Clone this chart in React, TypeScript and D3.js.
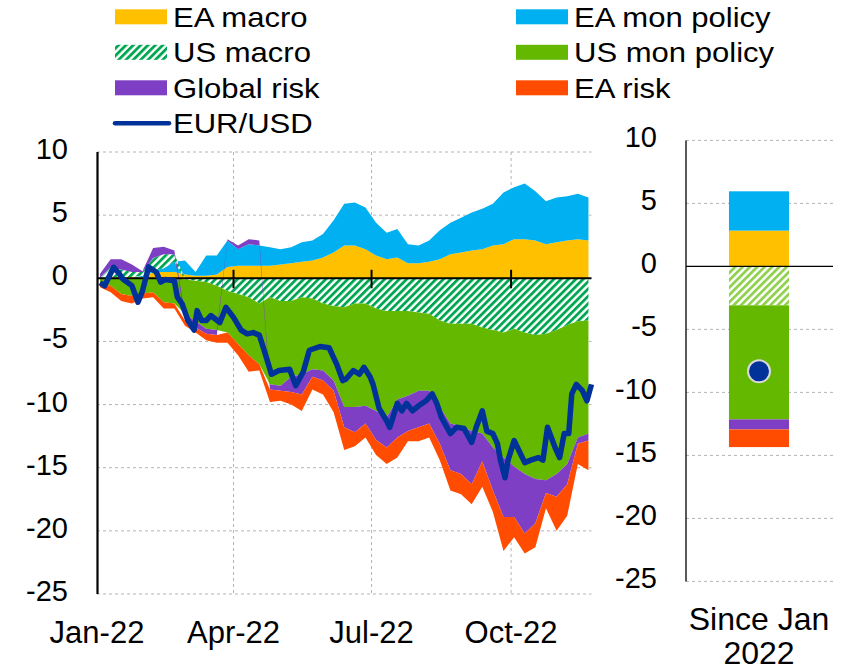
import React from 'react';
import * as d3 from 'd3';

const W = 847;
const H = 670;
const FONT = '"Liberation Sans", Arial, Helvetica, sans-serif';

// weekly observations (Mondays)
const weeks = [
  '2022-01-03', '2022-01-10', '2022-01-17', '2022-01-24', '2022-01-31',
  '2022-02-07', '2022-02-14', '2022-02-21', '2022-02-28',
  '2022-03-07', '2022-03-14', '2022-03-21', '2022-03-28',
  '2022-04-04', '2022-04-11', '2022-04-18', '2022-04-25',
  '2022-05-02', '2022-05-09', '2022-05-16', '2022-05-23', '2022-05-30',
  '2022-06-06', '2022-06-13', '2022-06-20', '2022-06-27',
  '2022-07-04', '2022-07-11', '2022-07-18', '2022-07-25',
  '2022-08-01', '2022-08-08', '2022-08-15', '2022-08-22', '2022-08-29',
  '2022-09-05', '2022-09-12', '2022-09-19', '2022-09-26',
  '2022-10-03', '2022-10-10', '2022-10-17', '2022-10-24', '2022-10-31',
  '2022-11-07', '2022-11-14', '2022-11-21',
];

const eaMacro = [0.05, 0.1, 0.1, 0.1, 0.1, 0.5, 0.5, 0.5, 0.3, 0.2, 0.2, 0.3, 0.9, 1.0, 1.0, 1.0, 1.0, 1.1, 1.2, 1.3, 1.4, 1.65, 2.05, 2.6, 2.6, 2.3, 1.8, 1.5, 1.65, 1.2, 1.2, 1.3, 1.5, 1.9, 2.05, 2.2, 2.3, 2.6, 2.7, 3.1, 3.1, 3.0, 2.7, 2.85, 3.0, 3.1, 3.0];
const eaMonPol = [0, 0, 0, 0, 0.1, 0.1, 0.3, 0.8, 1.1, 0.3, 1.6, 1.5, 2.1, 1.3, 1.7, 1.6, 1.45, 1.2, 1.25, 1.55, 1.6, 1.85, 2.55, 3.3, 3.4, 3.3, 2.6, 2.1, 2.25, 1.5, 1.4, 1.7, 2.3, 2.5, 2.75, 3.0, 3.2, 3.3, 4.1, 4.1, 4.4, 3.9, 3.4, 3.55, 3.5, 3.6, 3.4];
const usMacro = [-0.05, 0.8, 0.6, 0.4, 0.3, 1.0, 1.1, 0.6, -0.1, -0.2, -0.3, -0.6, -1.0, -1.25, -1.5, -2.0, -1.5, -1.8, -1.8, -1.5, -1.6, -2.0, -2.2, -2.3, -2.0, -2.0, -2.4, -2.6, -2.6, -2.6, -2.7, -2.8, -3.35, -3.6, -3.6, -3.6, -3.9, -4.1, -4.3, -4.0, -4.3, -4.5, -4.4, -4.1, -3.7, -3.4, -3.35];
const usMonPol = [-0.35, -0.6, -1.25, -1.4, -1.2, -1.1, -1.9, -2.0, -2.7, -3.2, -3.7, -3.5, -3.3, -3.95, -4.6, -4.8, -6.9, -6.7, -6.0, -6.1, -5.6, -5.3, -5.9, -7.9, -8.2, -8.1, -8.1, -8.4, -7.0, -6.7, -6.2, -6.1, -6.85, -7.9, -8.1, -8.5, -8.4, -9.3, -9.9, -10.9, -11.2, -11.4, -11.6, -11.4, -11.0, -9.2, -8.95];
const globalRisk = [0.3, 0.6, 0.8, 0.6, 0.05, 0.8, 0.6, 0.3, -0.55, -0.5, -0.4, -0.4, 0.1, 0.3, 0.4, 0.4, -0.4, -0.4, -1.2, -1.6, -0.6, -0.8, -0.8, -1.6, -2.0, -1.4, -2.3, -2.4, -3.0, -2.8, -2.9, -2.6, -2.9, -3.7, -3.8, -4.2, -2.2, -3.4, -4.7, -4.0, -4.7, -3.5, -1.0, -1.8, -1.6, -0.5, -0.55];
const eaRisk = [-0.3, -0.5, -0.55, -0.6, -0.4, -0.4, -0.5, -0.4, -0.4, -0.4, -0.5, -0.6, -0.8, -0.9, -1.3, -0.5, -1.0, -0.8, -1.0, -1.3, -1.0, -1.1, -1.7, -1.8, -1.1, -1.1, -1.2, -1.3, -1.6, -0.8, -1.1, -1.1, -1.3, -1.6, -1.6, -1.6, -2.0, -1.7, -2.7, -1.6, -1.6, -1.9, -1.2, -2.7, -2.5, -1.6, -2.35];

// EUR/USD, read at its turning points
const eurDates = [
  '2022-01-03', '2022-01-06', '2022-01-12', '2022-01-15', '2022-01-18', '2022-01-24', '2022-01-28', '2022-01-31',
  '2022-02-04', '2022-02-09', '2022-02-12', '2022-02-15', '2022-02-21', '2022-02-23', '2022-02-26',
  '2022-03-02', '2022-03-06', '2022-03-08', '2022-03-11', '2022-03-14', '2022-03-17', '2022-03-23', '2022-03-27',
  '2022-04-01', '2022-04-06', '2022-04-10', '2022-04-14', '2022-04-18', '2022-04-22', '2022-04-26',
  '2022-05-01', '2022-05-08', '2022-05-12', '2022-05-17', '2022-05-21', '2022-05-28',
  '2022-06-03', '2022-06-08', '2022-06-12', '2022-06-14', '2022-06-19', '2022-06-23', '2022-06-26', '2022-06-30',
  '2022-07-02', '2022-07-06', '2022-07-11', '2022-07-13', '2022-07-18', '2022-07-21', '2022-07-24', '2022-07-28',
  '2022-08-01', '2022-08-06', '2022-08-10', '2022-08-13', '2022-08-16', '2022-08-22', '2022-08-26', '2022-08-31',
  '2022-09-05', '2022-09-08', '2022-09-12', '2022-09-15', '2022-09-19', '2022-09-22', '2022-09-24', '2022-09-27', '2022-09-29',
  '2022-10-03', '2022-10-06', '2022-10-10', '2022-10-14', '2022-10-19', '2022-10-22', '2022-10-25', '2022-10-30',
  '2022-11-02', '2022-11-05', '2022-11-08', '2022-11-10', '2022-11-13', '2022-11-17', '2022-11-20', '2022-11-23',
];
const eurValues = [
  -0.35, -0.6, 0.87, 0.47, -0.05, -0.58, -1.9, -1.0,
  0.9, 0.5, -0.3, -0.1, -0.2, -1.5, -2.0,
  -3.35, -4.1, -2.56, -3.35, -3.35, -2.95, -3.5, -2.3,
  -3.1, -4.1, -4.4, -4.3, -4.5, -6.0, -7.6,
  -7.3, -7.2, -8.5, -7.4, -5.7, -5.4,
  -5.5, -6.8, -8.1, -8.0, -7.3, -7.6, -7.05, -7.8,
  -8.4, -10.3, -11.3, -11.8, -9.9, -10.5, -9.9, -10.5,
  -10.1, -9.7, -9.15, -9.9, -11.0, -12.3, -11.8, -11.9,
  -13.0, -11.8, -10.5, -12.1, -12.3, -13.1, -14.4, -15.8, -14.4,
  -12.85, -13.6, -14.6, -14.4, -14.2, -14.4, -11.8, -13.4,
  -14.2, -12.3, -12.3, -9.15, -8.4, -8.9, -9.7, -8.4,
];

// cumulative change since January 2022 (right panel)
const sinceLabel = ['Since Jan', '2022'];
const sinceValues = [2.84, 3.12, -3.09, -9.05, -0.8, -1.4];
const sinceEur = -8.33;

const seriesKeys = ['eaMacro', 'eaMonPol', 'usMacro', 'usMonPol', 'globalRisk', 'eaRisk'];
const seriesColors = ['#FFC000', '#00B0F0', 'url(#hatchUS)', '#64B800', '#7F3FC4', '#FF4C00'];
const barColors = ['#FFC000', '#00B0F0', 'url(#hatchUSlight)', '#64B800', '#7F3FC4', '#FF4C00'];
const seriesData = [eaMacro, eaMonPol, usMacro, usMonPol, globalRisk, eaRisk];

const yTicks = [10, 5, 0, -5, -10, -15, -20, -25];
const xTickDates = ['2022-01-01', '2022-04-01', '2022-07-01', '2022-10-01'];
const xTickLabels = ['Jan-22', 'Apr-22', 'Jul-22', 'Oct-22'];

const parse = d3.utcParse('%Y-%m-%d');

export default function App() {
  const x = d3.scaleUtc()
    .domain([parse('2022-01-01')!, parse('2022-11-24')!])
    .range([97, 593]);
  const y = d3.scaleLinear().domain([-25, 10]).range([594, 152]);
  const plotRight = x(parse('2022-11-23')!);

  const rows = weeks.map((w, i) => {
    const r: any = { date: parse(w) };
    seriesKeys.forEach((k, j) => { r[k] = seriesData[j][i]; });
    return r;
  });
  const stacked = d3.stack<any>()
    .keys(seriesKeys)
    .offset(d3.stackOffsetDiverging)(rows);

  const area = d3.area<any>()
    .x(d => x(d.data.date))
    .y0(d => y(d[0]))
    .y1(d => y(d[1]));

  const eurLine = d3.line<number>()
    .x((_, i) => x(parse(eurDates[i])!))
    .y(d => y(d));

  // right panel
  const yR = d3.scaleLinear().domain([-25, 10]).range([581.4, 140.4]);
  const band = d3.scaleBand().domain(['since']).range([686, 832]).padding(0.417);
  const bx = band('since')!;
  const bw = band.bandwidth();
  const barStack = d3.stack<any>()
    .keys(seriesKeys)
    .offset(d3.stackOffsetDiverging)([Object.fromEntries(seriesKeys.map((k, j) => [k, sinceValues[j]]))]);

  const legendLeft = [
    { label: 'EA macro', fill: '#FFC000' },
    { label: 'US macro', fill: 'url(#hatchUS)' },
    { label: 'Global risk', fill: '#7F3FC4' },
    { label: 'EUR/USD', line: '#003299' },
  ];
  const legendRight = [
    { label: 'EA mon policy', fill: '#00B0F0' },
    { label: 'US mon policy', fill: '#64B800' },
    { label: 'EA risk', fill: '#FF4C00' },
  ];

  const legendItem = (it: any, i: number, sx: number, tx: number) => {
    const cy = 16.8 + 35.5 * i;
    return (
      <g key={it.label}>
        {it.line ? (
          <line x1={sx} x2={sx + 54} y1={cy} y2={cy} stroke={it.line} strokeWidth={4.5} strokeLinecap="round" />
        ) : (
          <rect x={sx} y={cy - 7.5} width={52} height={15} fill={it.fill} />
        )}
        <text transform={`translate(${tx},${cy + 10}) scale(1.15,1)`} fontSize={27} fill="#000">{it.label}</text>
      </g>
    );
  };

  return (
    <svg width={W} height={H} style={{ position: 'absolute', left: 0, top: 0, background: '#fff' }} fontFamily={FONT}>
      <defs>
        <pattern id="hatchUS" patternUnits="userSpaceOnUse" width={5.2} height={5.2} patternTransform="rotate(45)">
          <rect width={5.2} height={5.2} fill="#fff" />
          <rect width={2.8} height={5.2} fill="#00A651" />
        </pattern>
        <pattern id="hatchUSlight" patternUnits="userSpaceOnUse" width={5.2} height={5.2} patternTransform="rotate(45)">
          <rect width={5.2} height={5.2} fill="#fff" />
          <rect width={2.8} height={5.2} fill="#92D050" />
        </pattern>
      </defs>

      {/* legend */}
      {legendLeft.map((it, i) => legendItem(it, i, 115, 173))}
      {legendRight.map((it, i) => legendItem(it, i, 516, 574))}

      {/* left panel grid */}
      {yTicks.filter(t => t !== 0).map(t => (
        <line key={t} x1={97} x2={plotRight} y1={y(t)} y2={y(t)} stroke="#b4b4b4" strokeDasharray="3 3" />
      ))}
      {xTickDates.slice(1).map(d => (
        <line key={d} x1={x(parse(d)!)} x2={x(parse(d)!)} y1={y(10)} y2={y(-25)} stroke="#b4b4b4" strokeDasharray="3 3" />
      ))}

      {stacked.map((s, i) => (
        <path key={s.key} d={area(s) || ''} fill={seriesColors[i]} />
      ))}

      <line x1={97} x2={plotRight} y1={y(0)} y2={y(0)} stroke="#000" strokeWidth={2} />
      {xTickDates.slice(1).map(d => (
        <line key={d} x1={x(parse(d)!)} x2={x(parse(d)!)} y1={y(0) - 8.5} y2={y(0) + 10} stroke="#000" strokeWidth={2} />
      ))}
      <path d={eurLine(eurValues) || ''} fill="none" stroke="#003299" strokeWidth={5.5} strokeLinejoin="round" />
      <line x1={97.5} x2={97.5} y1={y(10)} y2={y(-25)} stroke="#000" strokeWidth={2.2} />

      {yTicks.map(t => (
        <text key={t} x={68} y={y(t) + 7} fontSize={29} textAnchor="end">{t}</text>
      ))}
      {xTickDates.map((d, i) => (
        <text key={d} x={x(parse(d)!)} y={643} fontSize={31} textAnchor="middle">{xTickLabels[i]}</text>
      ))}

      {/* right panel */}
      {yTicks.filter(t => t !== 0).map(t => (
        <line key={t} x1={686} x2={833} y1={yR(t)} y2={yR(t)} stroke="#b4b4b4" strokeDasharray="3 3" />
      ))}
      {barStack.map((s, i) => (
        <rect key={s.key} x={bx} width={bw} y={yR(Math.max(s[0][0], s[0][1]))}
          height={Math.abs(yR(s[0][0]) - yR(s[0][1]))} fill={barColors[i]} />
      ))}
      <line x1={686} x2={833} y1={yR(0)} y2={yR(0)} stroke="#000" strokeWidth={1.3} />
      <line x1={686} x2={686} y1={yR(10)} y2={yR(-25)} stroke="#000" strokeWidth={1.3} />
      <circle cx={bx + bw / 2} cy={yR(sinceEur)} r={11} fill="#003299" stroke="#d9d9d9" strokeWidth={2} />
      {yTicks.map(t => (
        <text key={t} x={657} y={yR(t) + 7} fontSize={29} textAnchor="end">{t}</text>
      ))}
      {sinceLabel.map((s, i) => (
        <text key={s} x={bx + bw / 2} y={630 + 34 * i} fontSize={32} textAnchor="middle">{s}</text>
      ))}
    </svg>
  );
}
